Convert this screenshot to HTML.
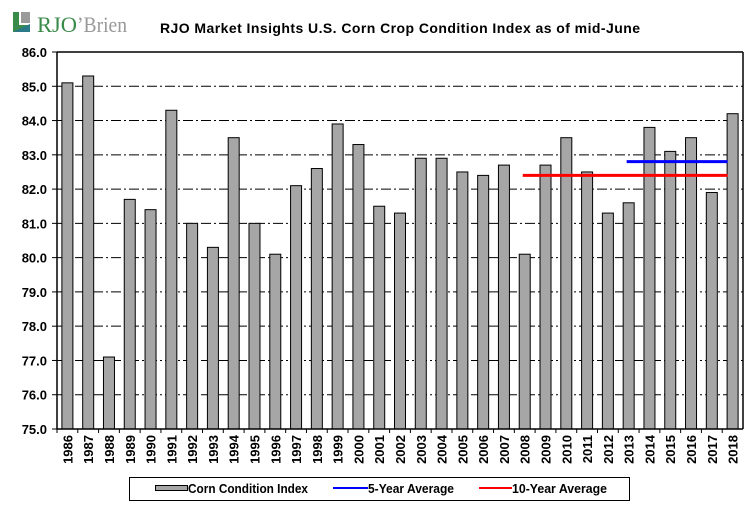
<!DOCTYPE html>
<html><head><meta charset="utf-8"><style>
body{margin:0;background:#fff;}
svg text{font-family:"Liberation Sans",Arial,sans-serif;}
</style></head><body>
<svg id="chart" width="756" height="516" viewBox="0 0 756 516">
  <g>
    <rect x="13" y="12" width="17" height="20" fill="#3a8a4a"/>
    <rect x="19" y="12" width="11" height="13" fill="#fff"/>
    <rect x="21" y="12" width="9" height="11" fill="#9a9a9a"/>
    <polygon points="13,32 30,32 30,24" fill="#2a7a8a"/>
    <text x="37" y="32" font-size="22" fill="#3a8a4a" style="font-family:'Liberation Serif',serif" textLength="40" lengthAdjust="spacingAndGlyphs">RJO</text>
    <text x="77" y="32" font-size="22" fill="#999" style="font-family:'Liberation Serif',serif" textLength="50" lengthAdjust="spacingAndGlyphs">’Brien</text>
  </g>
  <text x="160" y="33" font-size="14" font-weight="bold" textLength="480" lengthAdjust="spacing">RJO Market Insights U.S. Corn Crop Condition Index as of mid-June</text>
  <g id="grid"></g>
  <g id="bars"></g>
  <g id="avgs"></g>
  <g id="axes"></g>
  <g>
    <rect x="129.5" y="477.5" width="500" height="23" fill="#fff" stroke="#000" stroke-width="1"/>
    <rect x="155.5" y="485.5" width="32" height="5" fill="#a6a6a6" stroke="#000"/>
    <text x="188" y="493" font-size="13" font-weight="bold" textLength="120" lengthAdjust="spacingAndGlyphs">Corn Condition Index</text>
    <line x1="333" y1="488" x2="368" y2="488" stroke="#0000ff" stroke-width="2"/>
    <text x="368" y="493" font-size="13" font-weight="bold" textLength="86" lengthAdjust="spacingAndGlyphs">5-Year Average</text>
    <line x1="479" y1="488" x2="512" y2="488" stroke="#ff0000" stroke-width="2"/>
    <text x="512" y="493" font-size="13" font-weight="bold" textLength="95" lengthAdjust="spacingAndGlyphs">10-Year Average</text>
  </g>
</svg>
<script>
const years=["1986","1987","1988","1989","1990","1991","1992","1993","1994","1995","1996","1997","1998","1999","2000","2001","2002","2003","2004","2005","2006","2007","2008","2009","2010","2011","2012","2013","2014","2015","2016","2017","2018"];
const values=[85.1,85.3,77.1,81.7,81.4,84.3,81.0,80.3,83.5,81.0,80.1,82.1,82.6,83.9,83.3,81.5,81.3,82.9,82.9,82.5,82.4,82.7,80.1,82.7,83.5,82.5,81.3,81.6,83.8,83.1,83.5,81.9,84.2];
const yTicks=[75,76,77,78,79,80,81,82,83,84,85,86];
const avg5=[82.8];const avg5Range=["2013","2018"];
const avg10=[82.4];const avg10Range=["2008","2018"];
const NS="http://www.w3.org/2000/svg";
const L=57,R=743,T=52,B=429,ymin=75,ymax=86;
const bw=(R-L)/years.length;
function y(v){return B-(v-ymin)/(ymax-ymin)*(B-T);}
function xc(i){return L+bw*(i+0.5);}
function mk(t,a,p){const e=document.createElementNS(NS,t);for(const k in a)e.setAttribute(k,a[k]);p.appendChild(e);return e;}
const grid=document.getElementById('grid'),bars=document.getElementById('bars'),avgs=document.getElementById('avgs'),axes=document.getElementById('axes');
yTicks.forEach(v=>{
  if(v>ymin&&v<ymax){const g=mk('line',{x1:L,x2:R,y1:y(v),y2:y(v),stroke:'#000','stroke-width':1,'stroke-dasharray':'10,3,2,3'},grid);
  
  }
  const tk=mk('line',{x1:L-5,x2:L,y1:y(v),y2:y(v),stroke:'#000'},axes);
  
  
  const t=mk('text',{x:L-10,y:y(v)+5,'text-anchor':'end','font-size':'13','font-weight':'bold'},axes);
  t.textContent=v.toFixed(1);
  
  
});
values.forEach((v,i)=>{
  const r=mk('rect',{x:xc(i)-5.5,y:y(v),width:11,height:B-y(v),fill:'#a6a6a6',stroke:'#000','stroke-width':1},bars);
  
  
  const tk=mk('line',{x1:L+bw*i,x2:L+bw*i,y1:B,y2:B+4,stroke:'#000'},axes);
  
  
  const t=mk('text',{x:0,y:0,'font-size':'13','font-weight':'bold','text-anchor':'end',transform:`translate(${xc(i)+5},${B+6}) rotate(-90)`},axes);
  t.textContent=years[i];
  
  
});
function avgLine(val,rng,col,name){
  const i0=years.indexOf(rng[0]),i1=years.indexOf(rng[1]);
  const l=mk('line',{x1:xc(i0)-2,x2:xc(i1)-5,y1:y(val),y2:y(val),stroke:col,'stroke-width':3},avgs);
  
  
}
avgLine(avg10[0],avg10Range,'#ff0000','ten-year-average-line');
avgLine(avg5[0],avg5Range,'#0000ff','five-year-average-line');
const ax=mk('path',{d:`M${L},${T} V${B} H${R} M${L},${T} H${R} M${R},${T} V${B}`,stroke:'#000','stroke-width':1.5,fill:'none'},axes);


</script>
</body></html>
